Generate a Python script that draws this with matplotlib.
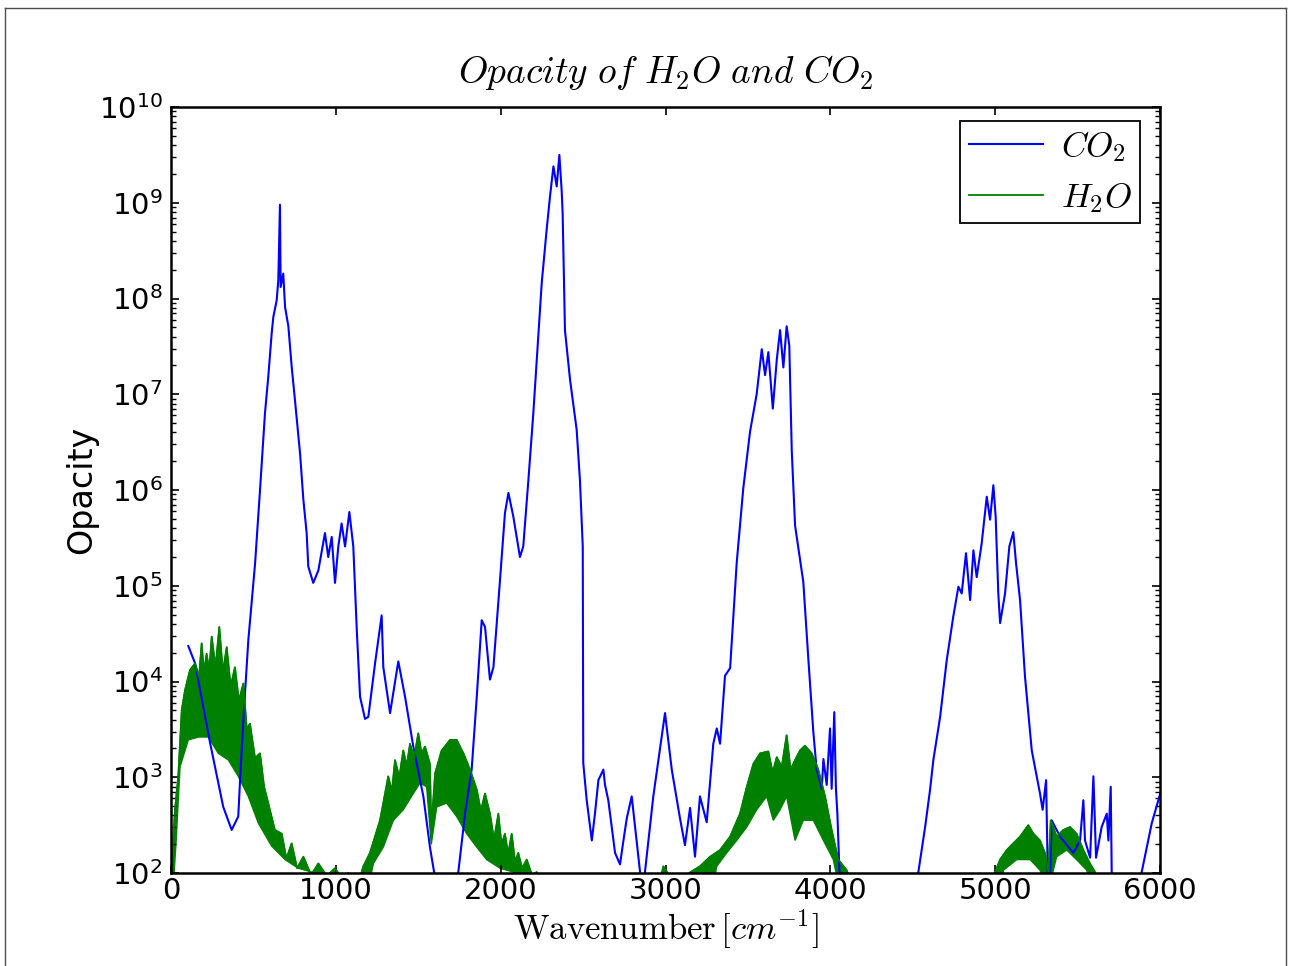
import numpy as np
import matplotlib
matplotlib.use("Agg")
import matplotlib.pyplot as plt
from matplotlib.font_manager import FontProperties
from matplotlib.lines import Line2D

# CO2 opacity (wavenumber, log10 opacity); values < 2 lie below the axis
co2_x = [105, 146, 237, 317, 368, 408, 419, 439, 469, 510, 540, 570, 590, 611, 621, 641, 651,
         661, 665, 681, 692, 712, 732, 752, 783, 803, 823, 833, 863, 894, 934, 954, 975, 995,
         1015, 1035, 1056, 1082, 1106, 1127, 1147, 1177, 1197, 1238, 1278, 1288, 1329, 1379,
         1420, 1470, 1531, 1571, 1596, 1670, 1743, 1784, 1824, 1855, 1885, 1905, 1935, 1956,
         1996, 2026, 2047, 2077, 2117, 2137, 2168, 2198, 2249, 2279, 2299, 2320, 2340, 2356,
         2370, 2376, 2390, 2421, 2461, 2481, 2498, 2501, 2522, 2553, 2572, 2593, 2623, 2633,
         2653, 2694, 2724, 2744, 2765, 2795, 2815, 2845, 2860, 2876, 2926, 2997, 3038, 3088,
         3118, 3149, 3179, 3209, 3250, 3290, 3311, 3331, 3361, 3392, 3432, 3472, 3513, 3553,
         3584, 3604, 3624, 3651, 3675, 3695, 3715, 3735, 3751, 3766, 3786, 3836, 3866, 3897,
         3917, 3948, 3958, 3978, 3998, 4008, 4024, 4034, 4043, 4055, 4300, 4534, 4575, 4605,
         4625, 4666, 4706, 4746, 4777, 4797, 4823, 4848, 4868, 4888, 4918, 4949, 4969, 4989,
         5003, 5019, 5030, 5060, 5086, 5110, 5127, 5151, 5181, 5222, 5252, 5272, 5288, 5309,
         5319, 5325, 5343, 5394, 5474, 5515, 5535, 5545, 5576, 5596, 5612, 5646, 5677, 5687,
         5701, 5707, 5800, 5889, 5950, 6000]
co2_log = [4.37, 4.19, 3.36, 2.69, 2.45, 2.59, 2.97, 3.60, 4.43, 5.23, 6.00, 6.80, 7.18, 7.64,
           7.81, 7.98, 8.19, 8.98, 8.12, 8.26, 7.91, 7.71, 7.29, 6.94, 6.38, 5.90, 5.55, 5.20,
           5.03, 5.16, 5.55, 5.30, 5.51, 5.03, 5.41, 5.65, 5.41, 5.77, 5.41, 4.54, 3.84, 3.61,
           3.63, 4.19, 4.69, 4.15, 3.67, 4.21, 3.84, 3.32, 2.80, 2.27, 2.01, 1.50, 2.01, 2.62,
           3.08, 3.84, 4.64, 4.57, 4.02, 4.15, 5.06, 5.76, 5.97, 5.72, 5.30, 5.41, 6.10, 6.80,
           8.16, 8.72, 9.06, 9.38, 9.17, 9.50, 9.13, 8.89, 7.67, 7.15, 6.63, 6.10, 5.41, 3.15,
           2.76, 2.34, 2.62, 2.97, 3.08, 2.92, 2.76, 2.21, 2.09, 2.33, 2.57, 2.80, 2.49, 2.02,
           1.50, 2.02, 2.80, 3.67, 3.08, 2.57, 2.29, 2.68, 2.17, 2.80, 2.53, 3.35, 3.51, 3.35,
           4.06, 4.14, 5.24, 6.02, 6.61, 7.00, 7.47, 7.20, 7.44, 6.85, 7.36, 7.67, 7.28, 7.71,
           7.51, 6.41, 5.63, 5.04, 4.25, 3.47, 3.08, 2.88, 3.19, 2.92, 3.51, 2.88, 3.68, 2.88,
           2.61, 2.02, 1.00, 2.01, 2.48, 2.87, 3.18, 3.63, 4.22, 4.68, 4.99, 4.92, 5.34, 4.85,
           5.37, 5.09, 5.44, 5.93, 5.69, 6.05, 5.72, 4.92, 4.61, 4.92, 5.41, 5.56, 5.23, 4.85,
           4.05, 3.28, 3.01, 2.83, 2.66, 2.97, 2.01, 1.50, 2.55, 2.38, 2.21, 2.34, 2.76, 2.34,
           2.16, 3.01, 2.16, 2.48, 2.62, 2.34, 2.90, 2.01, 1.00, 2.01, 2.52, 2.82]

# H2O opacity is a dense forest of lines: upper edge (with its spikes) and lower edge, log10
h2o_top_x = [0, 24, 44, 65, 85, 115, 146, 170, 186, 200, 216, 232, 247, 270, 293, 315, 338,
             362, 388, 412, 439, 460, 479, 510, 540, 565, 590, 630, 672, 700, 732, 765, 803,
             850, 894, 945, 995, 1035, 1076, 1120, 1167, 1207, 1268, 1318, 1340, 1359, 1385,
             1409, 1430, 1450, 1475, 1500, 1520, 1541, 1571, 1579, 1602, 1642, 1693, 1733,
             1774, 1814, 1855, 1880, 1905, 1935, 1960, 1986, 2005, 2026, 2045, 2067, 2087,
             2107, 2130, 2158, 2190, 2219, 2260, 2950, 2987, 3050, 3209, 3270, 3331, 3392,
             3452, 3493, 3533, 3574, 3624, 3650, 3675, 3705, 3735, 3759, 3786, 3816, 3846,
             3887, 3927, 3968, 4008, 4048, 4099, 4150, 4960, 4999, 5030, 5070, 5110, 5151,
             5201, 5232, 5272, 5302, 5323, 5337, 5373, 5414, 5454, 5494, 5535, 5575, 5606, 5650]
h2o_top_log = [2.00, 2.66, 3.01, 3.70, 3.91, 4.12, 4.19, 4.05, 4.40, 4.10, 4.29, 4.12, 4.47,
               4.15, 4.57, 4.10, 4.36, 3.95, 4.15, 3.80, 3.98, 3.50, 3.56, 3.20, 3.25, 2.90,
               2.73, 2.45, 2.41, 2.15, 2.31, 2.05, 2.17, 1.98, 2.10, 1.97, 2.05, 1.95, 2.00,
               1.80, 2.07, 2.21, 2.55, 3.01, 2.85, 3.18, 3.00, 3.28, 3.12, 3.35, 3.20, 3.46,
               3.25, 3.32, 3.14, 2.45, 3.04, 3.28, 3.39, 3.39, 3.25, 3.08, 2.87, 2.65, 2.83,
               2.62, 2.35, 2.62, 2.30, 2.41, 2.20, 2.41, 2.12, 2.21, 2.05, 2.14, 1.98, 2.01,
               1.80, 1.80, 2.07, 1.90, 2.07, 2.17, 2.24, 2.38, 2.62, 2.90, 3.14, 3.25, 3.27,
               3.05, 3.21, 3.11, 3.44, 3.08, 3.18, 3.28, 3.33, 3.25, 3.08, 2.80, 2.45, 2.14,
               2.03, 1.80, 1.80, 2.01, 2.14, 2.24, 2.31, 2.38, 2.50, 2.41, 2.34, 2.21, 2.01,
               2.55, 2.38, 2.45, 2.48, 2.41, 2.24, 2.10, 2.01, 1.80]
h2o_bot_x = [0, 30, 55, 105, 166, 226, 287, 348, 408, 469, 530, 611, 692, 772, 854, 900, 1190,
             1228, 1288, 1349, 1409, 1470, 1511, 1551, 1579, 1612, 1672, 1733, 1794, 1855,
             1915, 1996, 2077, 2120, 3280, 3311, 3371, 3432, 3493, 3553, 3614, 3654, 3695,
             3735, 3786, 3836, 3897, 3958, 4018, 4060, 5040, 5050, 5131, 5212, 5272, 5320,
             5373, 5434, 5494, 5555, 5600]
h2o_bot_log = [1.50, 2.30, 3.11, 3.39, 3.42, 3.42, 3.25, 3.18, 3.01, 2.80, 2.52, 2.28, 2.14,
               2.05, 2.01, 1.80, 1.80, 2.10, 2.27, 2.55, 2.66, 2.83, 2.94, 2.90, 2.30, 2.69,
               2.73, 2.59, 2.41, 2.27, 2.14, 2.05, 2.01, 1.80, 1.80, 2.07, 2.21, 2.34, 2.48,
               2.66, 2.80, 2.55, 2.66, 2.80, 2.34, 2.55, 2.55, 2.34, 2.14, 1.80, 1.80, 2.03,
               2.14, 2.14, 2.03, 1.80, 2.17, 2.24, 2.14, 2.03, 1.80]

fig = plt.figure(figsize=(12.91, 9.66), dpi=100)
ax = fig.add_axes([171 / 1291, 1 - 873 / 966, 989 / 1291, 766 / 966])

co2 = np.power(10.0, co2_log)
top = np.power(10.0, h2o_top_log)
bot = np.power(10.0, h2o_bot_log)

ax.plot(co2_x, co2, color='b', lw=1.5, label=r'$CO_2$')
poly_x = list(h2o_top_x) + list(h2o_bot_x)[::-1]
poly_y = list(top) + list(bot)[::-1]
ax.fill(poly_x, poly_y, color='g', lw=1.0)
ax.plot(h2o_top_x, top, color='g', lw=1.3, label=r'$H_2O$')

ax.set_yscale('log')
ax.set_xlim(0, 6000)
ax.set_ylim(1e2, 1e10)

ax.tick_params(which='both', direction='in', top=True, right=True, labelsize=21)
ax.tick_params(which='major', length=6, width=1.2, pad=3)
ax.tick_params(which='minor', length=3.5, width=1.0)
ax.tick_params(axis='y', which='major', pad=6)
ax.minorticks_on()
ax.xaxis.set_minor_locator(matplotlib.ticker.NullLocator())
for s in ax.spines.values():
    s.set_linewidth(1.8)

ax.set_title(r'$Opacity\ of\ H_2O\ and\ CO_2$', fontsize=27, pad=17,
             math_fontfamily='cm')
ax.set_xlabel(r'$\mathrm{Wavenumber}\,[cm^{-1}]$', fontsize=25, math_fontfamily='cm')
ax.set_ylabel('Opacity', fontsize=24)
ax.xaxis.set_label_coords(0.5, -0.045)
ax.yaxis.set_label_coords(-0.074, 0.5)

leg = ax.legend(loc='upper right', bbox_to_anchor=(0.9798, 0.9817), borderaxespad=0,
                prop=FontProperties(size=25, math_fontfamily='cm'),
                fancybox=False, framealpha=1, edgecolor='k', handlelength=2.15,
                handletextpad=0.5, labelspacing=0.45, borderpad=0.24)
leg.get_frame().set_linewidth(1.3)

# thin border round the whole picture
for xs, ys in [([5 / 1291, 5 / 1291], [-0.01, 1 - 8 / 966]),
               ([5 / 1291, 1286 / 1291], [1 - 8 / 966, 1 - 8 / 966]),
               ([1286 / 1291, 1286 / 1291], [-0.01, 1 - 8 / 966])]:
    fig.add_artist(Line2D(xs, ys, transform=fig.transFigure, color='0.3', lw=1.0))

fig.savefig('out.png', dpi=100, facecolor='white')
